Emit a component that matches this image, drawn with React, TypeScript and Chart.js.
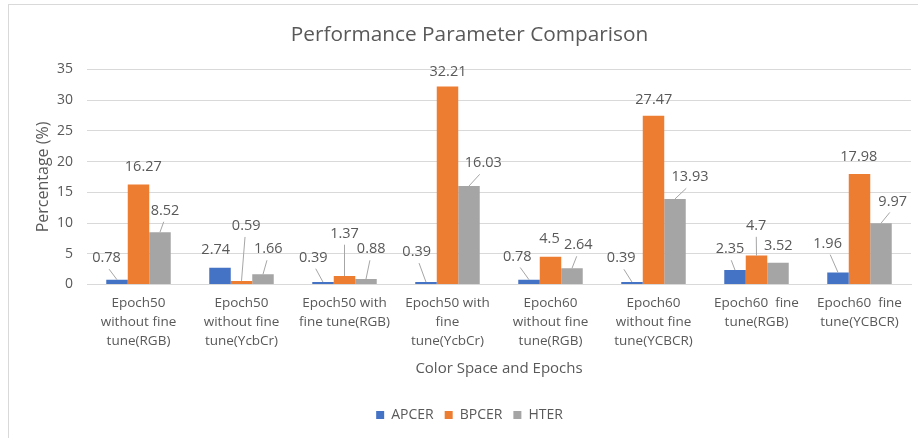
import React, { useEffect, useRef } from "react";
import { Chart, registerables } from "chart.js";

Chart.register(...registerables);

const categories: string[][] = [
  ["Epoch50", "without fine", "tune(RGB)"],
  ["Epoch50", "without fine", "tune(YcbCr)"],
  ["Epoch50 with", "fine tune(RGB)"],
  ["Epoch50 with", "fine", "tune(YcbCr)"],
  ["Epoch60", "without fine", "tune(RGB)"],
  ["Epoch60", "without fine", "tune(YCBCR)"],
  ["Epoch60  fine", "tune(RGB)"],
  ["Epoch60  fine", "tune(YCBCR)"],
];

const seriesNames = ["APCER", "BPCER", "HTER"];
const apcer = [0.78, 2.74, 0.39, 0.39, 0.78, 0.39, 2.35, 1.96];
const bpcer = [16.27, 0.59, 1.37, 32.21, 4.5, 27.47, 4.7, 17.98];
const hter = [8.52, 1.66, 0.88, 16.03, 2.64, 13.93, 3.52, 9.97];
const seriesColors = ["#4472C4", "#ED7D31", "#A5A5A5"];

const yMin = 0;
const yMax = 35;
const yStep = 5;

const chartTitle = "Performance Parameter Comparison";
const xTitle = "Color Space and Epochs";
const yTitle = "Percentage (%)";

// label placement offsets (dx, dy) from each bar's top-centre, like Excel's moved labels
const labelOffsets: number[][][] = [
  [[-10.5, -21.5], [-4.3, -18], [-9.7, -24.4], [-9.3, -30], [-11.7, -23.2], [-10.8, -23.8], [-5, -20.8], [-10.4, -28.8]],
  [[4.8, -17.2], [4.7, -54.9], [0, -42.4], [0.5, -15], [-1, -17.5], [0.3, -16], [-0.3, -29.8], [-0.7, -16.8]],
  [[5, -21.4], [5.3, -25], [5.2, -29.8], [14.3, -22.7], [6.3, -23], [15, -21.6], [0.3, -17], [11.7, -21.8]],
];

const TEXT = "#595959";
const FONT = "'Open Sans', 'Noto Sans', sans-serif";

const framePlugin = {
  id: "frame",
  afterLayout(chart: any) {
    // the original chart frame extends past the right edge; title and legend centre on that frame
    const shift = 10;
    if (chart.titleBlock) {
      chart.titleBlock.left += shift;
      chart.titleBlock.right += shift;
    }
    if (chart.legend) {
      chart.legend.left += shift;
      chart.legend.right += shift;
      chart.legend.legendHitBoxes?.forEach((b: any) => (b.left += shift));
    }
  },
  beforeDraw(chart: any) {
    const ctx = chart.ctx;
    ctx.save();
    ctx.fillStyle = "#ffffff";
    ctx.fillRect(0, 0, chart.width, chart.height);
    ctx.strokeStyle = "#D9D9D9";
    ctx.lineWidth = 1;
    ctx.strokeRect(8.5, 4.5, chart.width + 10, chart.height + 10);
    ctx.restore();
  },
};

const dataLabelPlugin = {
  id: "dataLabels",
  afterDatasetsDraw(chart: any) {
    const ctx = chart.ctx;
    ctx.save();
    ctx.font = `14.5px ${FONT}`;
    ctx.fillStyle = TEXT;
    ctx.textAlign = "center";
    ctx.textBaseline = "middle";
    chart.data.datasets.forEach((ds: any, i: number) => {
      const meta = chart.getDatasetMeta(i);
      meta.data.forEach((el: any, j: number) => {
        const [dx, dy] = labelOffsets[i][j];
        const lx = el.x + dx;
        const ly = el.y + dy;
        if (dy < -19.5) {
          ctx.beginPath();
          ctx.strokeStyle = "#A6A6A6";
          ctx.lineWidth = 1;
          ctx.moveTo(lx - dx * 0.25, ly + 11);
          ctx.lineTo(el.x, el.y);
          ctx.stroke();
        }
        ctx.fillText(String(ds.data[j]), lx, ly);
      });
    });
    ctx.restore();
  },
};

export default function App() {
  const ref = useRef<HTMLCanvasElement | null>(null);

  useEffect(() => {
    document.body.style.margin = "0";
    if (!ref.current) return;
    const values = [apcer, bpcer, hter];
    const chart = new Chart(ref.current, {
      type: "bar",
      data: {
        labels: categories,
        datasets: seriesNames.map((name, i) => ({
          label: name,
          data: values[i],
          backgroundColor: seriesColors[i],
          borderWidth: 0,
          categoryPercentage: 0.626,
          barPercentage: 1,
        })),
      },
      options: {
        animation: false,
        responsive: false,
        maintainAspectRatio: false,
        layout: { padding: { left: 8, right: 7, top: 0, bottom: 6 } },
        plugins: {
          title: {
            display: true,
            text: chartTitle,
            color: TEXT,
            font: { family: FONT, size: 20.8, weight: "normal" },
            padding: { top: 22.5, bottom: 22 },
          },
          legend: {
            position: "bottom",
            labels: {
              boxWidth: 8,
              boxHeight: 8,
              padding: 11,
              color: TEXT,
              font: { family: FONT, size: 14 },
            },
          },
          tooltip: { enabled: false },
        },
        scales: {
          x: {
            grid: { display: false, drawTicks: false },
            border: { display: true, color: "#D9D9D9" },
            ticks: {
              color: TEXT,
              padding: 9.5,
              maxRotation: 0,
              autoSkip: false,
              font: { family: FONT, size: 13.5, lineHeight: 1.407 },
            },
            title: {
              display: true,
              text: xTitle,
              color: TEXT,
              font: { family: FONT, size: 15 },
              padding: { top: 0, bottom: 19 },
            },
            afterFit: (scale: any) => {
              scale.height = 112.5;
            },
          },
          y: {
            min: yMin,
            max: yMax,
            ticks: {
              stepSize: yStep,
              color: TEXT,
              padding: 14,
              font: { family: FONT, size: 14 },
            },
            grid: { color: "#D9D9D9", drawTicks: false },
            border: { display: false },
            title: {
              display: true,
              text: yTitle,
              color: TEXT,
              font: { family: FONT, size: 16 },
              padding: { top: 25.5, bottom: 0 },
            },
            afterFit: (scale: any) => {
              scale.width = 79;
            },
          },
        },
      },
      plugins: [framePlugin, dataLabelPlugin],
    });
    return () => chart.destroy();
  }, []);

  return (
    <div style={{ width: 918, height: 438 }}>
      <canvas ref={ref} width={918} height={438} style={{ width: 918, height: 438, display: "block" }} />
    </div>
  );
}
